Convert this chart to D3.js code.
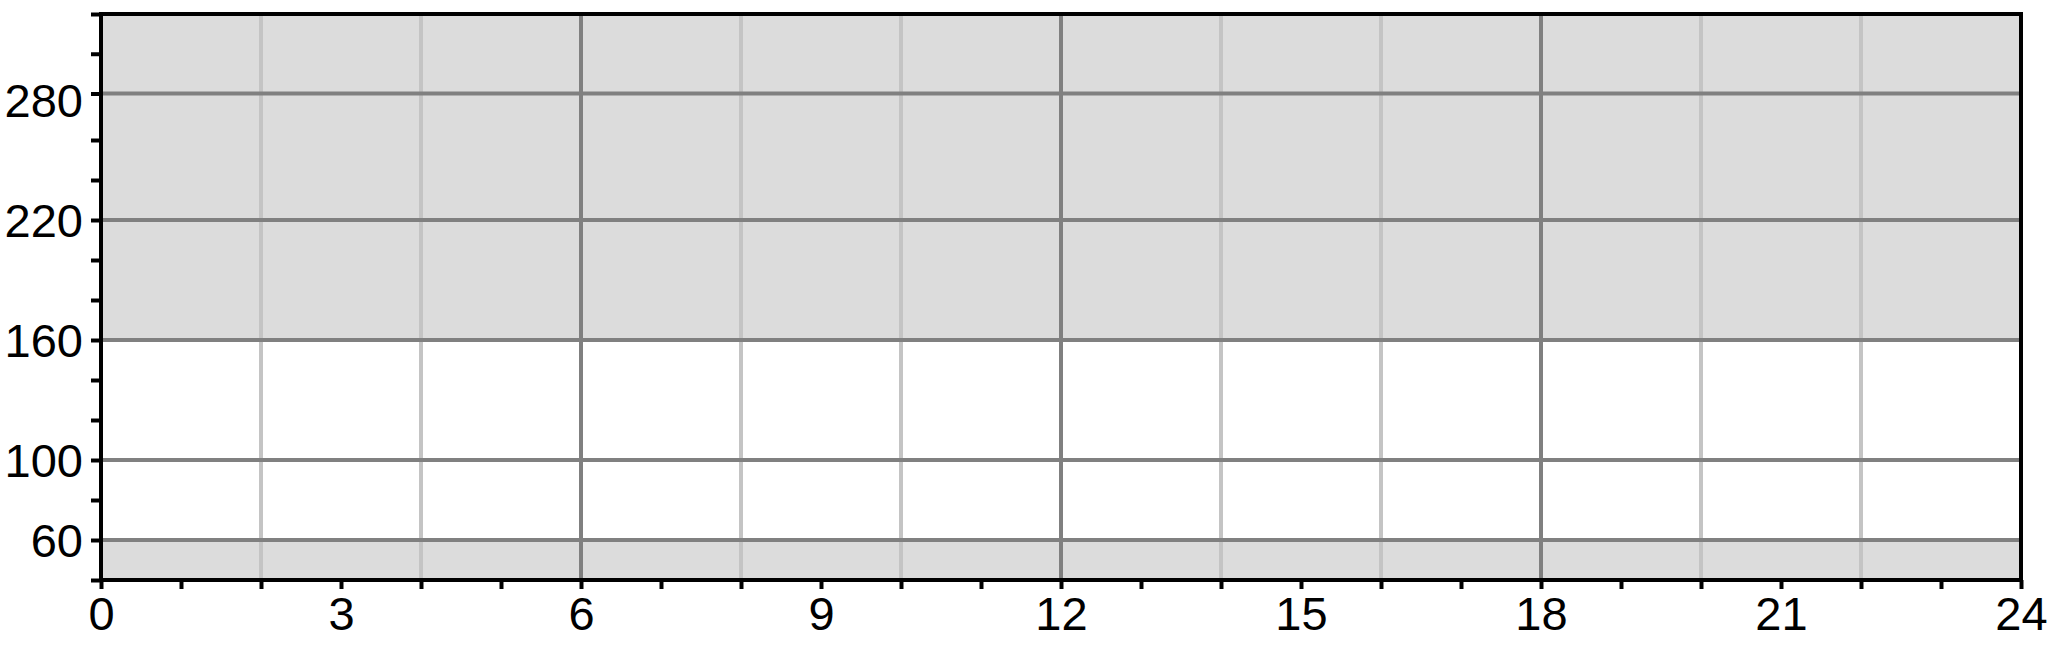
<!DOCTYPE html>
<html>
<head>
<meta charset="utf-8">
<script src="https://cdn.jsdelivr.net/npm/d3@7"></script>
<style>
  html, body { margin: 0; padding: 0; background: #fff; }
  svg { display: block; }
  text { font-family: "Liberation Sans", Arial, sans-serif; }
</style>
</head>
<body>
<svg id="chart" width="2050" height="650"></svg>
<script>
// ---- data ----
const xDomain = [0, 24];
const xTickValues = d3.range(0, 25, 1);
const xLabelValues = [0, 3, 6, 9, 12, 15, 18, 21, 24];
const yTickValues = d3.range(40, 321, 20);
const yLabelValues = [60, 100, 160, 220, 280];
const hGridValues = [60, 100, 160, 220, 280];
const vGridMajor = [6, 12, 18];
const vGridMinor = [2, 4, 8, 10, 14, 16, 20, 22];
const bands = [[40, 60], [160, 320]];
const yDomainBreaks = [40, 260, 280, 320];

// ---- layout ----
const plotLeft = 101, plotRight = 2021, plotTop = 14, plotBottom = 580;
const fontSize = 47;
const svg = d3.select("#chart");

const x = d3.scaleLinear().domain(xDomain).range([plotLeft, plotRight]);
// tick/grid scale (reference has slightly irregular spacing near the top)
const y = d3.scaleLinear().domain(yDomainBreaks).range([plotBottom, 140, 93.5, plotTop]);
// label scale
const yLab = d3.scaleLinear().domain([40, 323]).range([plotBottom, plotTop]);

// bands
svg.append("g").selectAll("rect").data(bands).join("rect")
  .attr("x", plotLeft).attr("width", plotRight - plotLeft)
  .attr("y", d => y(d[1])).attr("height", d => y(d[0]) - y(d[1]))
  .attr("fill", "#dcdcdc");

// vertical grid
svg.append("g").selectAll("line").data(vGridMinor).join("line")
  .attr("x1", d => x(d)).attr("x2", d => x(d))
  .attr("y1", plotTop).attr("y2", plotBottom)
  .attr("stroke", "#c4c4c4").attr("stroke-width", 4);
svg.append("g").selectAll("line").data(vGridMajor).join("line")
  .attr("x1", d => x(d)).attr("x2", d => x(d))
  .attr("y1", plotTop).attr("y2", plotBottom)
  .attr("stroke", "#808080").attr("stroke-width", 4);

// horizontal grid
svg.append("g").selectAll("line").data(hGridValues).join("line")
  .attr("x1", plotLeft).attr("x2", plotRight)
  .attr("y1", d => y(d)).attr("y2", d => y(d))
  .attr("stroke", "#808080").attr("stroke-width", 4);

// x axis ticks
const xAxis = svg.append("g").attr("transform", `translate(0,${plotBottom})`)
  .call(d3.axisBottom(x).tickValues(xTickValues).tickSize(9).tickSizeOuter(0)
    .tickFormat(d => xLabelValues.includes(d) ? d : ""));
xAxis.select(".domain").remove();
xAxis.selectAll(".tick line").attr("stroke", "#000").attr("stroke-width", 4);
xAxis.selectAll(".tick text").attr("y", 16).attr("dy", "0.72em")
  .attr("font-size", fontSize).attr("fill", "#000")
  .attr("font-family", "Liberation Sans, Arial, sans-serif");

// y axis ticks
const yAxis = svg.append("g").attr("transform", `translate(${plotLeft},0)`)
  .call(d3.axisLeft(y).tickValues(yTickValues).tickSize(10).tickSizeOuter(0).tickFormat(""));
yAxis.select(".domain").remove();
yAxis.selectAll(".tick line").attr("stroke", "#000").attr("stroke-width", 4);

// y labels
const yLabels = svg.append("g").attr("transform", `translate(${plotLeft},0)`)
  .call(d3.axisLeft(yLab).tickValues(yLabelValues).tickSize(0).tickPadding(18));
yLabels.select(".domain").remove();
yLabels.selectAll(".tick text").attr("dy", "0.36em")
  .attr("font-size", fontSize).attr("fill", "#000")
  .attr("font-family", "Liberation Sans, Arial, sans-serif");

// frame
svg.append("rect")
  .attr("x", plotLeft).attr("y", plotTop)
  .attr("width", plotRight - plotLeft).attr("height", plotBottom - plotTop)
  .attr("fill", "none").attr("stroke", "#000").attr("stroke-width", 4);
</script>
</body>
</html>
